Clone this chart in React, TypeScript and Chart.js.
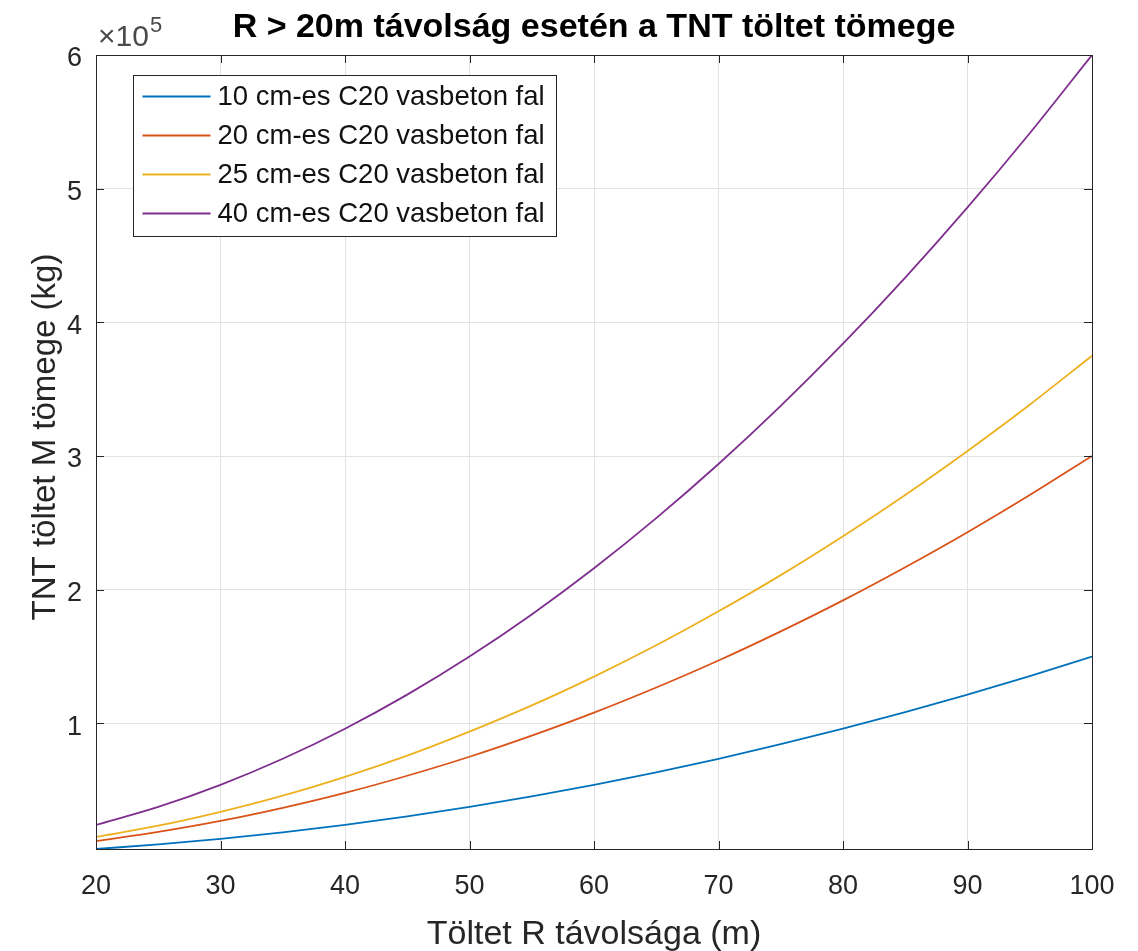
import React, { useEffect, useRef } from "react";
import { Chart, registerables } from "chart.js";

Chart.register(...registerables);

const distances = [20, 25, 30, 35, 40, 45, 50, 55, 60, 65, 70, 75, 80, 85, 90, 95, 100];
const wall10 = [6000, 9400, 13500, 18400, 24000, 30400, 37500, 45400, 54000, 63400, 73500, 84400, 96000, 108400, 121500, 135400, 150000];
const wall20 = [12000, 18800, 27000, 36800, 48000, 60800, 75000, 90800, 108000, 126800, 147000, 168800, 192000, 216800, 243000, 270800, 300000];
const wall25 = [15000, 23400, 33800, 45900, 60000, 75900, 93800, 113400, 135000, 158400, 183800, 210900, 240000, 270900, 303800, 338400, 375000];
const wall40 = [24000, 37500, 54000, 73500, 96000, 121500, 150000, 181500, 216000, 253500, 294000, 337500, 384000, 433500, 486000, 541500, 600000];

const seriesLabels = [
  "10 cm-es C20 vasbeton fal",
  "20 cm-es C20 vasbeton fal",
  "25 cm-es C20 vasbeton fal",
  "40 cm-es C20 vasbeton fal",
];
const seriesColors = ["#0072BD", "#D95319", "#EDB120", "#7E2F8E"];

const xTicks = [20, 30, 40, 50, 60, 70, 80, 90, 100];
const yTicks = [100000, 200000, 300000, 400000, 500000, 600000];
const yTickLabels = ["1", "2", "3", "4", "5", "6"];

const titleText = "R > 20m távolság esetén a TNT töltet tömege";
const xTitle = "Töltet R távolsága (m)";
const yTitle = "TNT töltet M tömege (kg)";
const exponentBase = "×10";
const exponentPower = "5";

const FONT = "'Liberation Sans', Arial, Helvetica, sans-serif";
const AXIS_COLOR = "#262626";

const decorPlugin = {
  id: "matlabDecor",
  afterDatasetsDraw(chart: any) {
    const { ctx, chartArea, scales } = chart;
    const { left, right, top, bottom } = chartArea;
    ctx.save();
    ctx.strokeStyle = AXIS_COLOR;
    ctx.lineWidth = 1;
    ctx.strokeRect(Math.round(left) + 0.5, Math.round(top) + 0.5, Math.round(right - left), Math.round(bottom - top));
    const tl = 8;
    ctx.beginPath();
    xTicks.forEach((v) => {
      const px = Math.round(scales.x.getPixelForValue(v)) + 0.5;
      ctx.moveTo(px, bottom);
      ctx.lineTo(px, bottom - tl);
      ctx.moveTo(px, top);
      ctx.lineTo(px, top + tl);
    });
    yTicks.forEach((v) => {
      const py = Math.round(scales.y.getPixelForValue(v)) + 0.5;
      ctx.moveTo(left, py);
      ctx.lineTo(left + tl, py);
      ctx.moveTo(right, py);
      ctx.lineTo(right - tl, py);
    });
    ctx.stroke();
    ctx.restore();
  },
  afterDraw(chart: any) {
    const { ctx, chartArea } = chart;
    const { left, right, top, bottom } = chartArea;
    const cx = (left + right) / 2;
    ctx.save();
    // title
    ctx.fillStyle = "#000000";
    ctx.font = `bold 34px ${FONT}`;
    ctx.textAlign = "center";
    ctx.textBaseline = "alphabetic";
    ctx.fillText(titleText, cx, 37);
    // exponent
    ctx.fillStyle = "#4a4a4a";
    ctx.textAlign = "left";
    ctx.font = `30px ${FONT}`;
    ctx.fillText(exponentBase, left + 2, 46);
    const w = ctx.measureText(exponentBase).width;
    ctx.font = `22px ${FONT}`;
    ctx.fillText(exponentPower, left + 3 + w, 32);
    // x title
    ctx.fillStyle = AXIS_COLOR;
    ctx.font = `34px ${FONT}`;
    ctx.textAlign = "center";
    ctx.fillText(xTitle, cx, 944);
    // y title
    ctx.save();
    ctx.translate(55, (top + bottom) / 2 - 15);
    ctx.rotate(-Math.PI / 2);
    ctx.font = `33px ${FONT}`;
    ctx.fillText(yTitle, 0, 0);
    ctx.restore();
    // legend
    const lx = left + 37.5;
    const ly = top + 20.5;
    const lw = 423;
    const lh = 161;
    ctx.fillStyle = "#ffffff";
    ctx.fillRect(lx, ly, lw, lh);
    ctx.strokeStyle = AXIS_COLOR;
    ctx.lineWidth = 1;
    ctx.strokeRect(lx, ly, lw, lh);
    ctx.font = `27.5px ${FONT}`;
    ctx.textAlign = "left";
    ctx.textBaseline = "middle";
    seriesLabels.forEach((lab, i) => {
      const y = ly + 21 + i * 39;
      ctx.strokeStyle = seriesColors[i];
      ctx.lineWidth = 1.8;
      ctx.beginPath();
      ctx.moveTo(lx + 9, y);
      ctx.lineTo(lx + 77, y);
      ctx.stroke();
      ctx.fillStyle = "#111111";
      ctx.fillText(lab, lx + 84, y + 1);
    });
    ctx.restore();
  },
};

export default function App() {
  const canvasRef = useRef<HTMLCanvasElement | null>(null);

  useEffect(() => {
    document.body.style.margin = "0";
    const canvas = canvasRef.current;
    if (!canvas) return;
    const allSeries = [wall10, wall20, wall25, wall40];
    const chart = new Chart(canvas, {
      type: "line",
      data: {
        datasets: allSeries.map((vals, i) => ({
          label: seriesLabels[i],
          data: distances.map((d, j) => ({ x: d, y: vals[j] })),
          borderColor: seriesColors[i],
          backgroundColor: seriesColors[i],
          borderWidth: 1.8,
          pointRadius: 0,
          cubicInterpolationMode: "monotone" as const,
          fill: false,
        })),
      },
      options: {
        responsive: false,
        animation: false,
        devicePixelRatio: 1,
        layout: { padding: { left: 0, right: 46, top: 55, bottom: 0 } },
        plugins: {
          legend: { display: false },
          title: { display: false },
          tooltip: { enabled: false },
        },
        scales: {
          x: {
            type: "linear",
            min: 20,
            max: 100,
            afterBuildTicks: (s: any) => {
              s.ticks = xTicks.map((v) => ({ value: v }));
            },
            afterFit: (s: any) => {
              s.height = 102;
            },
            ticks: {
              color: AXIS_COLOR,
              font: { family: FONT, size: 27 },
              padding: 21,
              maxRotation: 0,
              autoSkip: false,
            },
            grid: { color: "#e2e2e2", drawTicks: false, lineWidth: 1 },
            border: { display: false },
          },
          y: {
            type: "linear",
            min: 6000,
            max: 600000,
            afterBuildTicks: (s: any) => {
              s.ticks = yTicks.map((v) => ({ value: v }));
            },
            afterFit: (s: any) => {
              s.width = 96;
            },
            ticks: {
              color: AXIS_COLOR,
              font: { family: FONT, size: 27 },
              padding: 14,
              labelOffset: 4,
              autoSkip: false,
              callback: (v: any) => {
                const idx = yTicks.indexOf(Number(v));
                return idx >= 0 ? yTickLabels[idx] : "";
              },
            },
            grid: { color: "#e2e2e2", drawTicks: false, lineWidth: 1 },
            border: { display: false },
          },
        },
      },
      plugins: [decorPlugin],
    });
    return () => chart.destroy();
  }, []);

  return (
    <div style={{ width: 1138, height: 951, background: "#ffffff" }}>
      <canvas ref={canvasRef} width={1138} height={951} style={{ display: "block" }} />
    </div>
  );
}
